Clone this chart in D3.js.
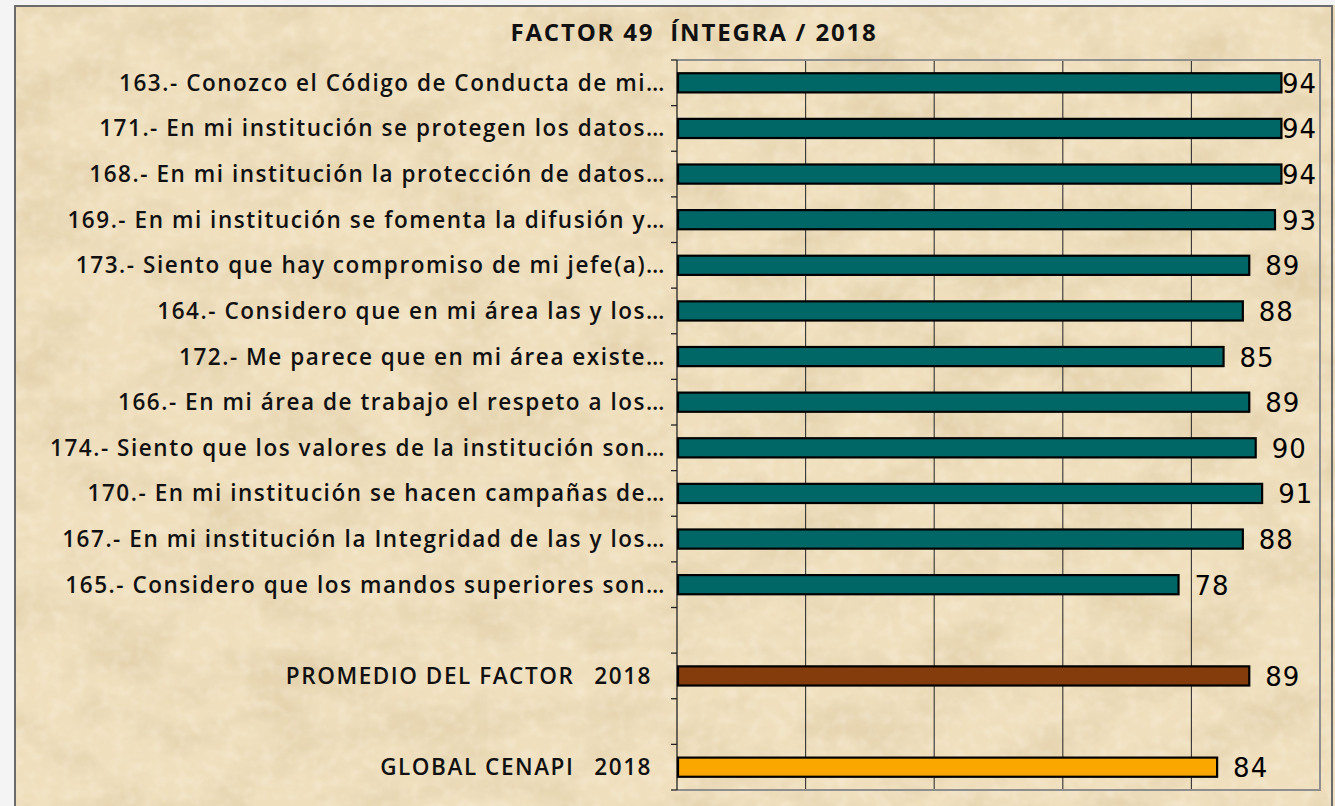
<!DOCTYPE html>
<html>
<head>
<meta charset="utf-8">
<script src="https://cdn.jsdelivr.net/npm/d3@7"></script>
<style>
  html, body { margin: 0; padding: 0; background: #f2f2f2; }
  svg { display: block; }
</style>
</head>
<body>
<div id="chart"></div>
<script>
// ---- data ----
const chartTitle = "FACTOR 49  ÍNTEGRA / 2018";
const categories = [
  "163.- Conozco el Código de Conducta de mi…",
  "171.- En mi institución se protegen los datos…",
  "168.- En mi institución la protección de datos…",
  "169.- En mi institución se fomenta la difusión y…",
  "173.- Siento que hay compromiso de mi jefe(a)…",
  "164.- Considero que en mi área las y los…",
  "172.- Me parece que en mi área existe…",
  "166.- En mi área de trabajo el respeto a los…",
  "174.- Siento que los valores de la institución son…",
  "170.- En mi institución se hacen campañas de…",
  "167.- En mi institución la Integridad de las y los…",
  "165.- Considero que los mandos superiores son…"
];
const values = [94, 94, 94, 93, 89, 88, 85, 89, 90, 91, 88, 78];
const summaryLabels = ["PROMEDIO DEL FACTOR", "GLOBAL CENAPI"];
const summaryYear = "2018";
const summaryValues = [89, 84];
const xTicks = [0, 20, 40, 60, 80, 100];

// colours
const colTeal = "#006666";
const colBrown = "#843C0C";
const colOrange = "#FAA800";

// ---- build rows (with blank spacer rows) ----
const rows = [];
categories.forEach((c, i) => rows.push({ id: "c" + i, label: c, value: values[i], color: colTeal, kind: "cat" }));
rows.push({ id: "blank1", label: "", value: null, kind: "blank" });
rows.push({ id: "s0", label: summaryLabels[0], value: summaryValues[0], color: colBrown, kind: "sum" });
rows.push({ id: "blank2", label: "", value: null, kind: "blank" });
rows.push({ id: "s1", label: summaryLabels[1], value: summaryValues[1], color: colOrange, kind: "sum" });

const W = 1335, H = 806;
const plot = { left: 677, right: 1320, top: 60, bottom: 790 };
const labelFont = "'Open Sans', Lato, sans-serif";

const svg = d3.select("#chart").append("svg").attr("width", W).attr("height", H);
const defs = svg.append("defs");

// parchment texture
const f = defs.append("filter").attr("id", "parch").attr("x", 0).attr("y", 0).attr("width", "100%").attr("height", "100%");
f.append("feTurbulence").attr("type", "fractalNoise").attr("baseFrequency", "0.012 0.02").attr("numOctaves", 4).attr("seed", 7).attr("result", "n");
f.append("feColorMatrix").attr("in", "n").attr("type", "matrix")
  .attr("values", "0 0 0 0 0.66  0 0 0 0 0.52  0 0 0 0 0.30  1.0 0 0 0 -0.42");
const f2 = defs.append("filter").attr("id", "parch2").attr("x", 0).attr("y", 0).attr("width", "100%").attr("height", "100%");
f2.append("feTurbulence").attr("type", "fractalNoise").attr("baseFrequency", "0.08").attr("numOctaves", 2).attr("seed", 3).attr("result", "n");
f2.append("feColorMatrix").attr("in", "n").attr("type", "matrix")
  .attr("values", "0 0 0 0 1  0 0 0 0 0.97  0 0 0 0 0.92  0 1.0 0 0 -0.42");

// left light strip
svg.append("rect").attr("x", 0).attr("y", 0).attr("width", W).attr("height", H).attr("fill", "#f4f4f4");
// parchment area
svg.append("rect").attr("x", 14).attr("y", 5).attr("width", W - 14).attr("height", H - 5).attr("fill", "#EFDFBD");
svg.append("rect").attr("x", 14).attr("y", 5).attr("width", W - 14).attr("height", H - 5).attr("filter", "url(#parch)");
svg.append("rect").attr("x", 14).attr("y", 5).attr("width", W - 14).attr("height", H - 5).attr("filter", "url(#parch2)").attr("opacity", 0.55);
// outer frame
svg.append("path").attr("d", `M15,${H} V6 H1332 V${H}`).attr("fill", "none").attr("stroke", "#6b6b6b").attr("stroke-width", 2);

// ---- scales ----
const x = d3.scaleLinear().domain([0, 100]).range([plot.left, plot.right]);
const y = d3.scaleBand().domain(rows.map(r => r.id)).range([plot.top, plot.bottom]).paddingInner(0.58).paddingOuter(0.29);

// gridlines
svg.append("g").selectAll("line").data(xTicks.filter(t => t > 0 && t < 100)).join("line")
  .attr("x1", d => x(d)).attr("x2", d => x(d)).attr("y1", plot.top).attr("y2", plot.bottom)
  .attr("stroke", "#333").attr("stroke-width", 1.1);

// plot border (top, right, bottom)
svg.append("path").attr("d", `M${plot.left},${plot.top} H${plot.right} V${plot.bottom} H${plot.left}`)
  .attr("fill", "none").attr("stroke", "#8e8e8e").attr("stroke-width", 2);

// left axis with ticks at band boundaries
const step = y.step();
const boundaries = d3.range(rows.length + 1).map(i => plot.top + i * step);
svg.append("line").attr("x1", plot.left).attr("x2", plot.left).attr("y1", plot.top).attr("y2", plot.bottom)
  .attr("stroke", "#222").attr("stroke-width", 1.3);
svg.append("g").selectAll("line").data(boundaries).join("line")
  .attr("x1", plot.left - 6).attr("x2", plot.left).attr("y1", d => d).attr("y2", d => d)
  .attr("stroke", "#222").attr("stroke-width", 1.3);

// bars
const dataRows = rows.filter(r => r.value !== null);
svg.append("g").selectAll("rect").data(dataRows).join("rect")
  .attr("x", x(0) + 1)
  .attr("y", d => y(d.id))
  .attr("width", d => x(d.value) - x(0) - 1)
  .attr("height", y.bandwidth())
  .attr("fill", d => d.color)
  .attr("stroke", "#000").attr("stroke-width", 2.2);

// value labels
svg.append("g").selectAll("text").data(dataRows).join("text")
  .attr("x", d => Math.min(x(d.value) + 16, plot.right - 38))
  .attr("y", d => y(d.id) + y.bandwidth() / 2 + 10)
  .attr("font-family", "'DejaVu Sans', Lato, sans-serif")
  .attr("font-size", 26)
  .attr("letter-spacing", 1)
  .attr("fill", "#000")
  .text(d => d.value);

// category labels
const labG = svg.append("g");
const lab = labG.selectAll("text").data(dataRows).join("text")
  .attr("x", d => d.kind === "cat" ? 666 : 652)
  .attr("y", d => y(d.id) + y.bandwidth() / 2 + 8)
  .attr("text-anchor", "end")
  .attr("font-family", labelFont)
  .attr("font-weight", 600)
  .attr("font-size", 22.5)
  .attr("fill", "#111");
lab.each(function(d) {
  const t = d3.select(this);
  if (d.kind === "cat") t.text(d.label);
  else {
    t.append("tspan").text(d.label);
    t.append("tspan").attr("dx", 20).text(summaryYear);
  }
});
// fit spacing so the longest label spans like the reference (~616px)
const longest = lab.filter((d, i) => i === 8).node();
const natural = longest.getComputedTextLength();
const n = categories[8].length;
const ls = Math.max(-1, (616 - natural) / n);
lab.attr("letter-spacing", ls);

// title
const title = svg.append("text").attr("x", 694).attr("y", 41).attr("text-anchor", "middle")
  .attr("font-family", labelFont).attr("font-weight", 700).attr("font-size", 24)
  .attr("fill", "#111").style("white-space", "pre")
  .text(chartTitle);
const tw = title.node().getComputedTextLength();
title.attr("letter-spacing", Math.max(0, (367 - tw) / chartTitle.length));
</script>
</body>
</html>
